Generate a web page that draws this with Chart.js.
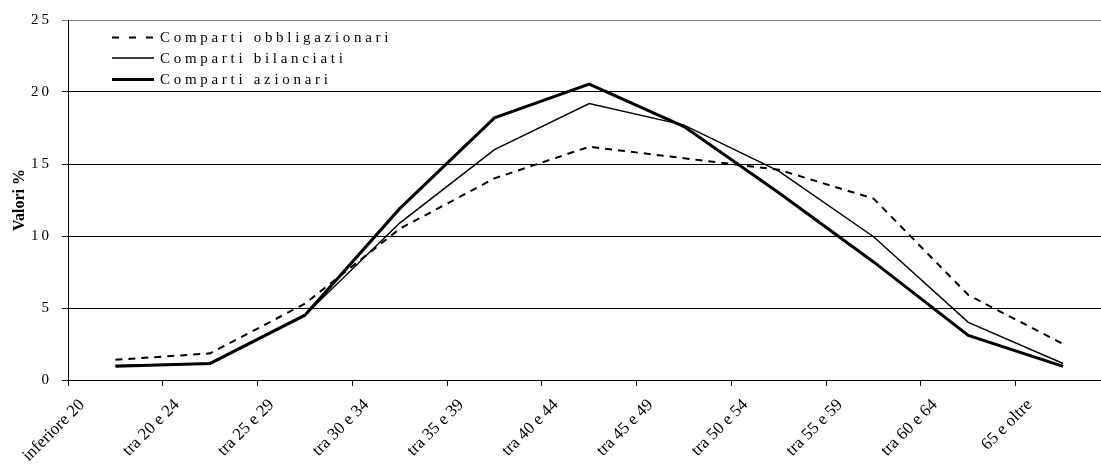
<!DOCTYPE html>
<html lang="it">
<head>
<meta charset="utf-8">
<title>Distribuzione per età degli iscritti</title>
<script src="https://cdn.jsdelivr.net/npm/chart.js@4.4.1/dist/chart.umd.min.js"></script>
<style>
  html, body { margin: 0; padding: 0; background: #fff; overflow: hidden; }
  #wrap { width: 1101px; height: 464px; }
</style>
</head>
<body>
<div id="wrap"><canvas id="chart" width="1101" height="464"></canvas></div>
<script>
// Classi di età (etichette dell'asse delle ascisse)
const categories = [
  'inferiore 20', 'tra 20 e 24', 'tra 25 e 29', 'tra 30 e 34', 'tra 35 e 39',
  'tra 40 e 44', 'tra 45 e 49', 'tra 50 e 54', 'tra 55 e 59', 'tra 60 e 64', '65 e oltre'
];

// Valori % per tipologia di comparto
const obbligazionari = [1.4, 1.85, 5.3, 10.5, 14.0, 16.2, 15.4, 14.6, 12.6, 5.9, 2.5];
const bilanciati     = [1.0, 1.15, 4.5, 10.9, 16.0, 19.2, 17.7, 14.5, 9.95, 4.0, 1.15];
const azionari       = [0.95, 1.15, 4.5, 11.9, 18.2, 20.55, 17.6, 13.0, 8.2, 3.1, 0.95];

// Etichette dell'asse verticale
const yTicks = [0, 5, 10, 15, 20, 25];

const SERIF = "'Liberation Serif', 'Times New Roman', serif";

// Ogni valore sta al centro della propria classe
const toPoints = (values) => values.map((v, i) => ({ x: i + 0.5, y: v }));

// Scala lineare con spaziatura tra i caratteri delle etichette
class SpacedLinearScale extends Chart.LinearScale {
  drawLabels(area) {
    const ctx = this.ctx;
    ctx.save();
    ctx.letterSpacing = '3px';
    super.drawLabels(area);
    ctx.restore();
  }
}
SpacedLinearScale.id = 'spacedLinear';
SpacedLinearScale.defaults = Chart.LinearScale.defaults;
Chart.register(SpacedLinearScale);

// Legenda interna all'area del grafico, in alto a sinistra
const insideLegend = {
  id: 'insideLegend',
  afterDatasetsDraw(chart) {
    const ctx = chart.ctx;
    const area = chart.chartArea;
    const x0 = area.left + 44, x1 = area.left + 86, tx = area.left + 92;
    const rows = [area.top + 17.5, area.top + 38, area.top + 59.5];
    ctx.save();
    chart.data.datasets.forEach((ds, i) => {
      const y = rows[i];
      ctx.beginPath();
      ctx.strokeStyle = ds.borderColor;
      ctx.lineWidth = ds.borderWidth;
      ctx.setLineDash(ds.legendDash || []);
      ctx.moveTo(x0, y);
      ctx.lineTo(x1, y);
      ctx.stroke();
      ctx.setLineDash([]);
      ctx.fillStyle = '#000';
      ctx.font = `15px ${SERIF}`;
      ctx.letterSpacing = '3.7px';
      ctx.textAlign = 'left';
      ctx.textBaseline = 'middle';
      ctx.fillText(ds.label, tx, y + 1);
    });
    ctx.restore();
  }
};

new Chart(document.getElementById('chart'), {
  type: 'line',
  data: {
    datasets: [
      {
        label: 'Comparti obbligazionari',
        data: toPoints(obbligazionari),
        borderColor: '#000',
        borderWidth: 2,
        borderDash: [7, 6],
        legendDash: [7, 10],
        pointRadius: 0,
        tension: 0,
        order: 3
      },
      {
        label: 'Comparti bilanciati',
        data: toPoints(bilanciati),
        borderColor: '#000',
        borderWidth: 1.5,
        pointRadius: 0,
        tension: 0,
        order: 2
      },
      {
        label: 'Comparti azionari',
        data: toPoints(azionari),
        borderColor: '#000',
        borderWidth: 3,
        pointRadius: 0,
        tension: 0,
        order: 1
      }
    ]
  },
  options: {
    responsive: false,
    animation: false,
    devicePixelRatio: 1,
    layout: { padding: { top: 20, right: 0, bottom: 0, left: 0 } },
    plugins: {
      legend: { display: false },
      tooltip: { enabled: false }
    },
    scales: {
      x: {
        type: 'linear',
        min: 0,
        max: 10.9,
        afterFit(scale) { scale.height = 84; },
        border: { display: true, color: '#000', width: 1 },
        grid: { drawOnChartArea: false, drawTicks: true, tickLength: 6, color: '#000' },
        ticks: {
          stepSize: 1,
          includeBounds: false,
          autoSkip: false,
          minRotation: 45,
          maxRotation: 45,
          padding: 9,
          labelOffset: 14,
          color: '#000',
          font: { family: SERIF, size: 17 },
          callback: (v) => categories[v] ?? ''
        }
      },
      y: {
        type: 'spacedLinear',
        min: yTicks[0],
        max: yTicks[yTicks.length - 1],
        afterFit(scale) { scale.width = 68; },
        afterBuildTicks(scale) { scale.ticks = yTicks.map(v => ({ value: v })); },
        border: { display: true, color: '#000', width: 1 },
        grid: {
          drawTicks: true,
          tickLength: 6,
          lineWidth: 1,
          color: (c) => (c.tick && c.tick.value === 25 ? '#808080' : '#000')
        },
        ticks: {
          padding: 10,
          color: '#000',
          font: { family: SERIF, size: 15 }
        },
        title: {
          display: true,
          text: 'Valori %',
          color: '#000',
          padding: { top: 10, bottom: 0 },
          font: { family: SERIF, size: 16, weight: 'bold' }
        }
      }
    }
  },
  plugins: [insideLegend]
});
</script>
</body>
</html>
